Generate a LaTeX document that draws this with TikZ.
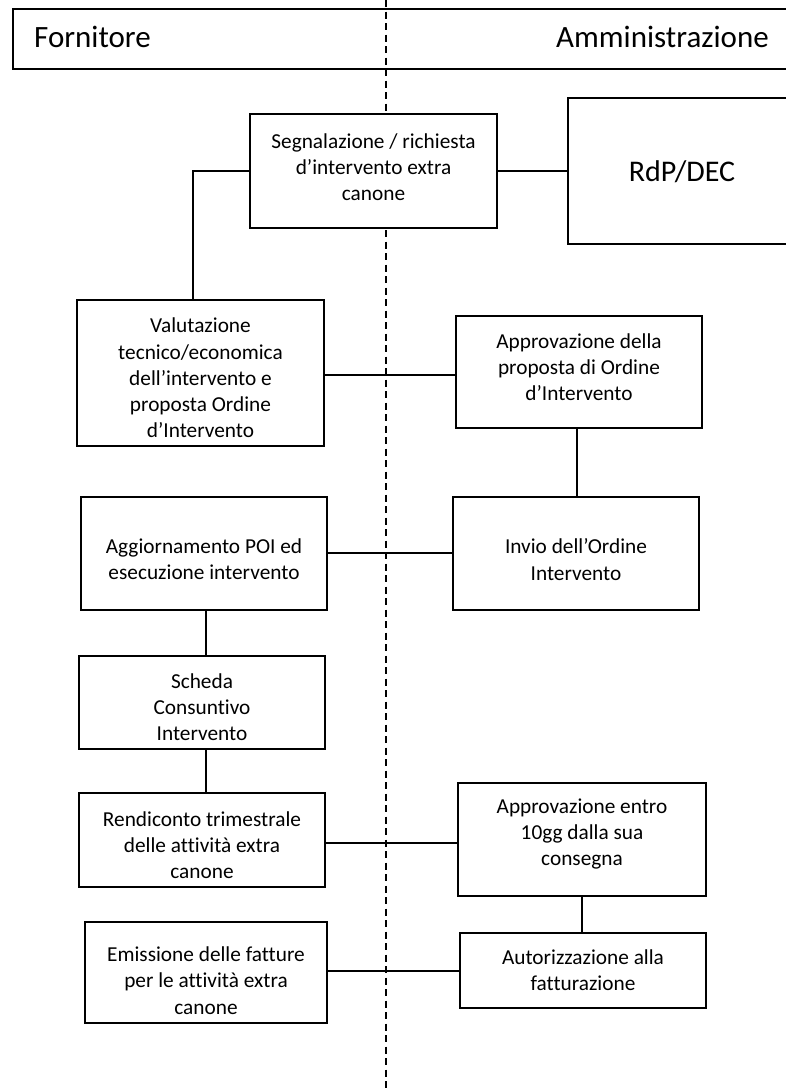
\documentclass[tikz,border=0pt]{standalone}
\usepackage{fontspec}
\setmainfont{Carlito}[Ligatures=NoCommon]
\begin{document}
\begin{tikzpicture}[x=1pt,y=-1pt,
  box/.style={draw, line width=1.9pt, fill=white, inner sep=0pt},
  txt/.style={inner sep=0pt, align=center, font=\fontsize{21.3}{26.2}\selectfont},
  link/.style={line width=1.9pt},
  lane/.style={line width=1.3pt, dash pattern=on 7pt off 4.5pt},
  hdrtext/.style={font=\fontsize{31}{37}\selectfont, inner sep=0pt}]
\clip (0,0) rectangle (786,1090);
\fill[white] (0,0) rectangle (786,1090);
% lane divider
\coordinate (dtop) at (386,0);
\coordinate (dbot) at (386,1090);
\draw[lane] (dtop) -- (dbot);
% header
\node[draw, line width=1.8pt, minimum width=788pt, minimum height=60pt, inner sep=0pt, anchor=north west] (hdr) at (12,8) {};
\node[hdrtext, anchor=base west] (forn) at (34,47.5) {Fornitore};
\node[hdrtext, anchor=base east] (amm) at (769,47.5) {Amministrazione};
% boxes
\node[box, minimum width=247pt, minimum height=114pt] (seg) at (373.5,171) {};
\node[box, minimum width=228pt, minimum height=146pt] (rdp) at (682,171) {};
\node[box, minimum width=247pt, minimum height=146pt] (val) at (200.5,373) {};
\node[box, minimum width=246pt, minimum height=112pt] (apd) at (579,372) {};
\node[box, minimum width=246pt, minimum height=113pt] (agg) at (204,553.5) {};
\node[box, minimum width=246pt, minimum height=113pt] (inv) at (576,553.5) {};
\node[box, minimum width=246pt, minimum height=93pt] (sch) at (202,702.5) {};
\node[box, minimum width=246pt, minimum height=94pt] (ren) at (202,840) {};
\node[box, minimum width=248pt, minimum height=113pt] (ape) at (582,839.5) {};
\node[box, minimum width=242pt, minimum height=101pt] (emi) at (206,972.5) {};
\node[box, minimum width=246pt, minimum height=75pt] (aut) at (583,970.5) {};
% texts
\node[txt] (segt) at ([yshift=4pt]seg.center) {Segnalazione / richiesta\\d’intervento extra\\canone};
\node[txt, font=\fontsize{30}{36}\selectfont] (rdpt) at ([yshift=-1pt]rdp.center) {RdP/DEC};
\node[txt] (valt) at ([yshift=-5pt]val.center) {Valutazione\\tecnico/economica\\dell’intervento e\\proposta Ordine\\d’Intervento};
\node[txt] (apdt) at ([yshift=5pt]apd.center) {Approvazione della\\proposta di Ordine\\d’Intervento};
\node[txt] (aggt) at ([yshift=-5.5pt]agg.center) {Aggiornamento POI ed\\esecuzione intervento};
\node[txt] (invt) at ([yshift=-6pt]inv.center) {Invio dell’Ordine\\Intervento};
\node[txt] (scht) at ([yshift=-4.5pt]sch.center) {Scheda\\Consuntivo\\Intervento};
\node[txt] (rent) at ([yshift=-5pt]ren.center) {Rendiconto trimestrale\\delle attività extra\\canone};
\node[txt] (apet) at ([yshift=5.5pt]ape.center) {Approvazione entro\\10gg dalla sua\\consegna};
\node[txt] (emit) at ([yshift=-8pt]emi.center) {Emissione delle fatture\\per le attività extra\\canone};
\node[txt] (autt) at (aut.center) {Autorizzazione alla\\fatturazione};
% connectors
\draw[link] (seg.west) -| ([xshift=-7.5pt]val.north);
\draw[link] (seg.east) -- (seg.east -| rdp.west);
\draw[link] ([yshift=-2pt]val.east) -- ([yshift=-2pt]val.east -| apd.west);
\draw[link] ([xshift=-2pt]apd.south) -- ([xshift=-2pt]apd.south |- inv.north);
\draw[link] ([yshift=0.5pt]agg.east) -- ([yshift=0.5pt]agg.east -| inv.west);
\draw[link] ([xshift=2pt]agg.south) -- ([xshift=2pt]agg.south |- sch.north);
\draw[link] ([xshift=4pt]sch.south) -- ([xshift=4pt]sch.south |- ren.north);
\draw[link] ([yshift=-3pt]ren.east) -- ([yshift=-3pt]ren.east -| ape.west);
\draw[link] (ape.south) -- (ape.south |- aut.north);
\draw[link] ([yshift=1.5pt]emi.east) -- ([yshift=1.5pt]emi.east -| aut.west);
\end{tikzpicture}
\end{document}
